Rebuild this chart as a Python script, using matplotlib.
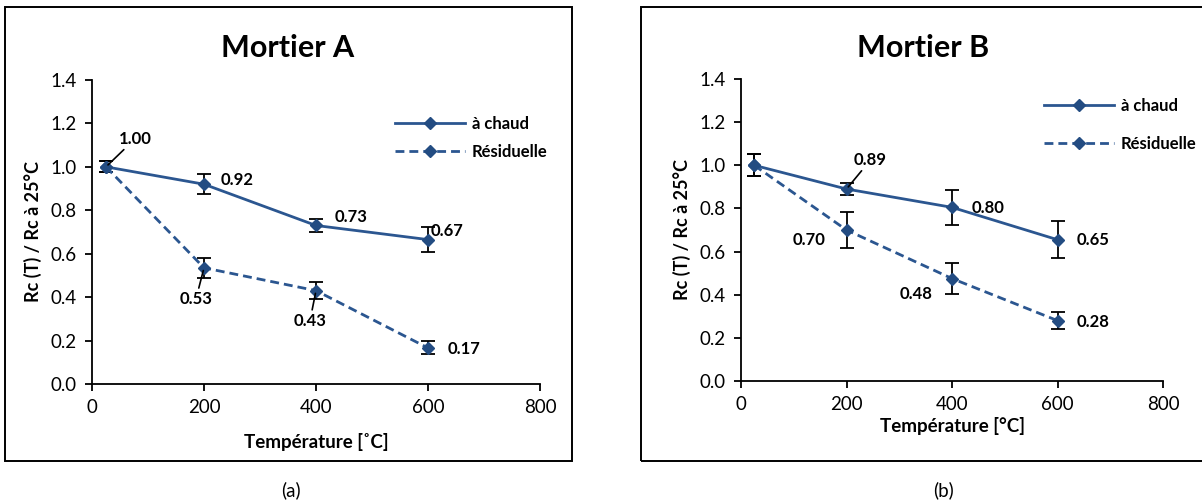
import matplotlib
matplotlib.use('Agg')
import matplotlib.pyplot as plt
from matplotlib.patches import Rectangle

plt.rcParams['font.family'] = ['Lato', 'DejaVu Sans']

temps = [25, 200, 400, 600]

# Mortier A
a_chaud = [1.00, 0.92, 0.73, 0.665]
a_chaud_err = [0.025, 0.045, 0.03, 0.057]
a_resid = [1.00, 0.535, 0.43, 0.166]
a_resid_err = [0.025, 0.045, 0.04, 0.03]
a_chaud_lbl = ['1.00', '0.92', '0.73', '0.67']
a_resid_lbl = [None, '0.53', '0.43', '0.17']

# Mortier B
b_chaud = [1.00, 0.89, 0.805, 0.655]
b_chaud_err = [0.05, 0.027, 0.08, 0.087]
b_resid = [1.00, 0.70, 0.475, 0.28]
b_resid_err = [0.05, 0.083, 0.07, 0.04]
b_chaud_lbl = [None, '0.89', '0.80', '0.65']
b_resid_lbl = [None, '0.70', '0.48', '0.28']

W, H = 1202, 504
LINE = '#2B5690'
MARK = '#234C82'

fig = plt.figure(figsize=(W / 100, H / 100), dpi=100)


def px_axes(x0, x1, ytop, ybot):
    return fig.add_axes([x0 / W, 1 - ybot / H, (x1 - x0) / W, (ybot - ytop) / H])


def box(x0, x1, ytop, ybot):
    fig.patches.append(Rectangle((x0 / W, 1 - ybot / H), (x1 - x0) / W, (ybot - ytop) / H,
                                 transform=fig.transFigure, fill=False,
                                 edgecolor='black', linewidth=1.4))


def setup(ax):
    ax.set_xlim(0, 800)
    ax.set_ylim(0, 1.4)
    ax.set_xticks([0, 200, 400, 600, 800])
    ax.set_yticks([0.0, 0.2, 0.4, 0.6, 0.8, 1.0, 1.2, 1.4])
    ax.set_yticklabels(['%.1f' % v for v in ax.get_yticks()])
    for s in ['top', 'right']:
        ax.spines[s].set_visible(False)
    for s in ['left', 'bottom']:
        ax.spines[s].set_linewidth(1.3)
    ax.tick_params(direction='out', length=5, width=1.3, labelsize=13.5, pad=6)
    ax.patch.set_alpha(0)


def draw(ax, chaud, chaud_err, resid, resid_err):
    ax.errorbar(temps, chaud, yerr=chaud_err, fmt='none', ecolor='black',
                elinewidth=1.3, capsize=5, capthick=1.3, zorder=2)
    ax.errorbar(temps, resid, yerr=resid_err, fmt='none', ecolor='black',
                elinewidth=1.3, capsize=5, capthick=1.3, zorder=2)
    l1, = ax.plot(temps, chaud, '-', color=LINE, lw=2, marker='D', ms=6.5,
                  mfc=MARK, mec=MARK, label='à chaud', zorder=3)
    l2, = ax.plot(temps, resid, '--', color=LINE, lw=2, marker='D', ms=6.5,
                  mfc=MARK, mec=MARK, label='Résiduelle', dashes=(3.2, 1.8), zorder=3)
    return l1, l2


def label(ax, x, y, txt, dx, dy, ha='left', leader=False):
    kw = {}
    if leader:
        kw['arrowprops'] = dict(arrowstyle='-', color='black', lw=1.2,
                                shrinkA=0, shrinkB=2)
    ax.annotate(txt, xy=(x, y), xytext=(dx, dy), textcoords='offset pixels',
                ha=ha, va='center', fontsize=12, fontweight='bold', **kw)


# ---- panel A
box(5, 572, 7, 461)
axA = px_axes(92, 540, 80, 384)
setup(axA)
draw(axA, a_chaud, a_chaud_err, a_resid, a_resid_err)
axA.set_xlabel('Température [˚C]', fontsize=13.5, fontweight='bold', labelpad=12)
axA.set_ylabel('Rc (T) / Rc à 25°C', fontsize=13, fontweight='bold', labelpad=6)
fig.text(288 / W, 1 - 48 / H, 'Mortier A', ha='center', va='center',
         fontsize=22, fontweight='bold')
axA.legend(loc='center left', bbox_to_anchor=(380 / W, 1 - 138 / H),
           bbox_transform=fig.transFigure, frameon=False, handlelength=4.2,
           labelspacing=0.75, prop=dict(size=12, weight='bold'), handletextpad=0.4)

a_off = [(29, 28, 'center', True), (17, 4, 'left', False),
         (19, 8, 'left', False), (3, 9, 'left', False)]
for t, v, s, (dx, dy, ha, ld) in zip(temps, a_chaud, a_chaud_lbl, a_off):
    label(axA, t, v, s, dx, dy, ha, ld)
a_off2 = [None, (-8, -31, 'center', True), (-6, -30, 'center', True),
          (20, -1, 'left', False)]
for t, v, s, o in zip(temps, a_resid, a_resid_lbl, a_off2):
    if s:
        label(axA, t, v, s, o[0], o[1], o[2], o[3])

fig.text(291 / W, 1 - 490 / H, '(a)', ha='center', va='center', fontsize=13.5)

# ---- panel B
box(641, 1210, 7, 461)
axB = px_axes(741, 1163, 79, 381)
setup(axB)
draw(axB, b_chaud, b_chaud_err, b_resid, b_resid_err)
axB.set_xlabel('Température [°C]', fontsize=13.5, fontweight='bold', labelpad=3)
axB.set_ylabel('Rc (T) / Rc à 25°C', fontsize=13, fontweight='bold', labelpad=6)
fig.text(923 / W, 1 - 48 / H, 'Mortier B', ha='center', va='center',
         fontsize=22, fontweight='bold')
axB.legend(loc='center left', bbox_to_anchor=(1029 / W, 1 - 125 / H),
           bbox_transform=fig.transFigure, frameon=False, handlelength=4.2,
           labelspacing=1.3, prop=dict(size=12, weight='bold'), handletextpad=0.4)

b_off = [None, (24, 29, 'center', True), (20, -1, 'left', False),
         (19, 0, 'left', False)]
for t, v, s, o in zip(temps, b_chaud, b_chaud_lbl, b_off):
    if s:
        label(axB, t, v, s, o[0], o[1], o[2], o[3])
b_off2 = [None, (-21, -10, 'right', False), (-20, -15, 'right', False),
          (19, -1, 'left', False)]
for t, v, s, o in zip(temps, b_resid, b_resid_lbl, b_off2):
    if s:
        label(axB, t, v, s, o[0], o[1], o[2], o[3])

fig.text(943 / W, 1 - 490 / H, '(b)', ha='center', va='center', fontsize=13.5)

fig.savefig('out.png', dpi=100)
